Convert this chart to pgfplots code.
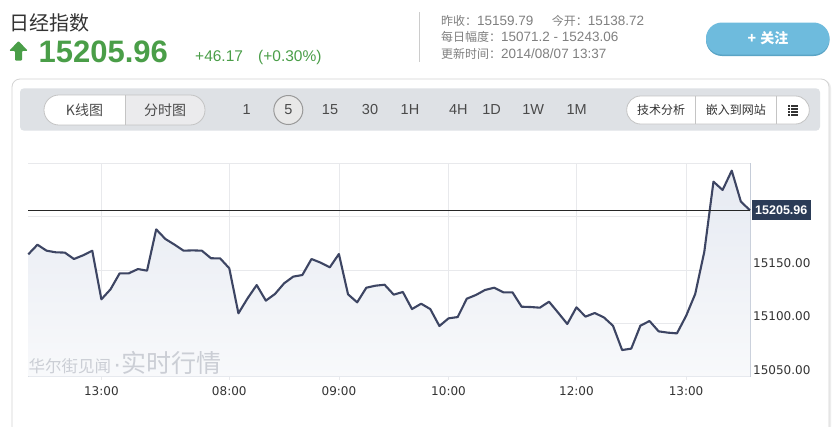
\documentclass[border=0pt]{standalone}
\usepackage{fontspec}
\usepackage{pgfplots}
\usepackage{pgfplotstable}
\pgfplotsset{compat=1.18}
\setmainfont{Liberation Sans}
\newfontfamily\cjk{Noto Sans CJK SC}
\newfontfamily\dv{DejaVu Sans}
\definecolor{upgreen}{HTML}{4A9E48}
\definecolor{infogray}{HTML}{808080}
\definecolor{titlegray}{HTML}{333333}
\definecolor{btnblue}{HTML}{6EBBDD}
\definecolor{btnshadow}{HTML}{5AA4C5}
\definecolor{bandgray}{HTML}{DEE1E5}
\definecolor{seggray}{HTML}{EBEBED}
\definecolor{segborder}{HTML}{C4C4C4}
\definecolor{paneledge}{HTML}{D4D4D4}
\definecolor{gridcol}{HTML}{E8E9EC}
\definecolor{axiscol}{HTML}{C5CCD8}
\definecolor{linecol}{HTML}{3D4563}
\definecolor{filltop}{HTML}{E6EAF2}
\definecolor{fillbot}{HTML}{F8F9FB}
\definecolor{navy}{HTML}{2B3C57}
\definecolor{wmark}{HTML}{CBCED5}
\definecolor{txt}{HTML}{333333}
\definecolor{btntxt}{HTML}{4A4A4A}
\newcommand{\fs}[1]{\fontsize{#1}{#1}\selectfont}

\pgfplotstableread{
i v
0 15164.7
1 15173.7
2 15168.1
3 15166.6
4 15166.3
5 15160.3
6 15163.8
7 15168.1
8 15122.5
9 15131.9
10 15146.9
11 15146.9
12 15150.9
13 15149.4
14 15188.1
15 15179.1
16 15173.8
17 15168.1
18 15168.4
19 15168.1
20 15161.0
21 15160.9
22 15151.6
23 15109.4
24 15123.4
25 15135.9
26 15121.3
27 15127.5
28 15137.5
29 15143.8
30 15145.3
31 15160.3
32 15156.9
33 15152.5
34 15165.0
35 15127.2
36 15119.7
37 15133.4
38 15135.3
39 15136.2
40 15126.9
41 15129.4
42 15113.4
43 15118.4
44 15113.4
45 15097.5
46 15104.7
47 15105.9
48 15123.1
49 15126.6
50 15131.3
51 15133.4
52 15129.1
53 15129.1
54 15115.6
55 15115.3
56 15114.7
57 15120.3
58 15110.0
59 15099.4
60 15115.0
61 15106.3
62 15109.7
63 15105.6
64 15097.8
65 15075.0
66 15076.3
67 15097.8
68 15102.2
69 15092.5
70 15091.3
71 15090.6
72 15106.9
73 15127.5
74 15167.2
75 15232.8
76 15225.0
77 15243.1
78 15214.1
79 15205.96
}\nikkei

\begin{document}
\begin{tikzpicture}
\begin{scope}[x=1pt,y=-1pt]
\useasboundingbox (0,0) rectangle (838,426);
\fill[white] (0,0) rectangle (838,426);
% ---------- header ----------
\node[anchor=base west, inner sep=0pt, text=titlegray, font=\cjk\fs{20}] at (9,30.3) {日经指数};
\fill[upgreen, rounded corners=1pt] (18.5,41) -- (27.8,50.8) -- (22,50.8) -- (22,60.5) -- (15,60.5) -- (15,50.8) -- (9.2,50.8) -- cycle;
\node[anchor=base west, inner sep=0pt, text=upgreen, font=\bfseries\fs{31}] at (38.5,62.7) {15205.96};
\node[anchor=base west, inner sep=0pt, text=upgreen, font=\fs{15.5}] at (195,61.7) {+46.17};
\node[anchor=base west, inner sep=0pt, text=upgreen, font=\fs{15.5}] at (258,61.7) {(+0.30\%)};
\draw[draw=black!20, line width=0.8pt] (419,12) -- (419,62);
\node[anchor=base west, inner sep=0pt, text=infogray] at (441,25) {{\cjk\fs{12}昨收：}{\fs{13.5}15159.79}};
\node[anchor=base west, inner sep=0pt, text=infogray] at (551.7,25) {{\cjk\fs{12}今开：}{\fs{13.5}15138.72}};
\node[anchor=base west, inner sep=0pt, text=infogray] at (441,41.7) {{\cjk\fs{12}每日幅度：}{\fs{13.5}15071.2 - 15243.06}};
\node[anchor=base west, inner sep=0pt, text=infogray] at (441,58.3) {{\cjk\fs{12}更新时间：}{\fs{13.5}2014/08/07 13:37}};
\fill[btnshadow, rounded corners=16pt] (706,23.5) rectangle (829.5,56);
\fill[btnblue, rounded corners=16pt] (706,22.5) rectangle (829.5,54.5);
\node[text=white, inner sep=0pt, font=\cjk\bfseries\fs{14}] at (768,38.3) {+\hspace{4pt}关注};
% ---------- panel ----------
\fill[black!7, rounded corners=8pt] (12,80) rectangle (831,446);
\filldraw[fill=white, draw=paneledge, line width=0.8pt, rounded corners=8pt] (12,79) rectangle (829,446);
\fill[bandgray, rounded corners=4pt] (20,88.3) rectangle (820,130.7);
% left segmented
\begin{scope}
\clip[rounded corners=14.9pt] (44,95) rectangle (205,125);
\fill[white] (44,95) rectangle (125,125);
\fill[seggray] (125,95) rectangle (205,125);
\draw[segborder, line width=0.8pt] (125,95) -- (125,125);
\end{scope}
\draw[segborder, line width=0.8pt, rounded corners=14.9pt] (44,95) rectangle (205,125);
\node[text=btntxt, inner sep=0pt, font=\cjk\fs{14}] at (84.5,110) {K线图};
\node[text=btntxt, inner sep=0pt, font=\cjk\fs{14}] at (165,110) {分时图};
% periods
\filldraw[fill=black!9, draw=black!40, line width=1pt] (288.3,110) circle [radius=14.5pt];
\foreach \xx/\lab in {246.7/1,288.3/5,330/15,370/30,410/1H,458.3/4H,491.7/1D,533.3/1W,576.7/1M}
  \node[text=btntxt, inner sep=0pt, font=\fs{14.5}] at (\xx,110) {\lab};
% right segmented
\filldraw[fill=white, draw=segborder, line width=0.8pt, rounded corners=13.9pt] (626.7,96) rectangle (809.3,124);
\draw[segborder, line width=0.8pt] (695.7,96) -- (695.7,124) (776,96) -- (776,124);
\node[text=txt, inner sep=0pt, font=\cjk\fs{12}] at (661.2,110) {技术分析};
\node[text=txt, inner sep=0pt, font=\cjk\fs{12}] at (735.8,110) {嵌入到网站};
\foreach \yy in {106,109,112,115} {
  \fill[txt] (787.5,\yy-0.8) rectangle (789.5,\yy+0.8);
  \fill[txt] (790.5,\yy-0.8) rectangle (798,\yy+0.8);
}
\end{scope}
% ---------- chart ----------
\begin{axis}[
  at={(28.3pt,-376.7pt)}, anchor=south west,
  scale only axis, width=721.7pt, height=213.4pt,
  xmin=0, xmax=79, ymin=15050, ymax=15250,
  scaled y ticks=false, scaled x ticks=false,
  axis x line*=bottom, axis y line*=right,
  axis line style={draw=axiscol, line width=0.9pt, -},
  xtick={8,22,34,46,60,72},
  xticklabels={13:00,08:00,09:00,10:00,12:00,13:00},
  ytick={15050,15100,15150,15200,15250},
  yticklabels={15050.00,15100.00,15150.00,{},{}},
  grid=major,
  major grid style={draw=gridcol, line width=0.8pt},
  tick align=outside, major tick length=3pt,
  xtick style={draw=gridcol, line width=0.8pt},
  ytick style={draw=none},
  xticklabel style={font=\dv\fs{12}, text=txt, inner sep=0pt, yshift=-7pt},
  yticklabel style={font=\dv\fs{12}, text=txt, anchor=west, inner sep=0pt, xshift=0pt, yshift=7pt},
  clip=false,
]
\addplot[draw=none, top color=filltop, bottom color=fillbot] table[x=i,y=v]{\nikkei} -- (axis cs:79,15050) -- (axis cs:0,15050) -- cycle;
\node[anchor=base west, inner sep=0pt, text=wmark] at (rel axis cs:0,0.022) {{\cjk\fs{16.5}华尔街见闻}\hspace{2pt}{\fs{25}·}{\cjk\fs{25}实时行情}};
\addplot[color=linecol, line width=2.1pt, line join=round, mark=none] table[x=i,y=v]{\nikkei};
\draw[black!85, line width=0.9pt] (axis cs:0,15205.96) -- (axis cs:79,15205.96);
\node[fill=navy, text=white, font=\bfseries\fs{12.5}, anchor=west, inner xsep=3.5pt, inner ysep=0pt, minimum height=19.7pt, xshift=1.5pt] at (axis cs:79,15205.96) {15205.96};
\end{axis}
\end{tikzpicture}
\end{document}
